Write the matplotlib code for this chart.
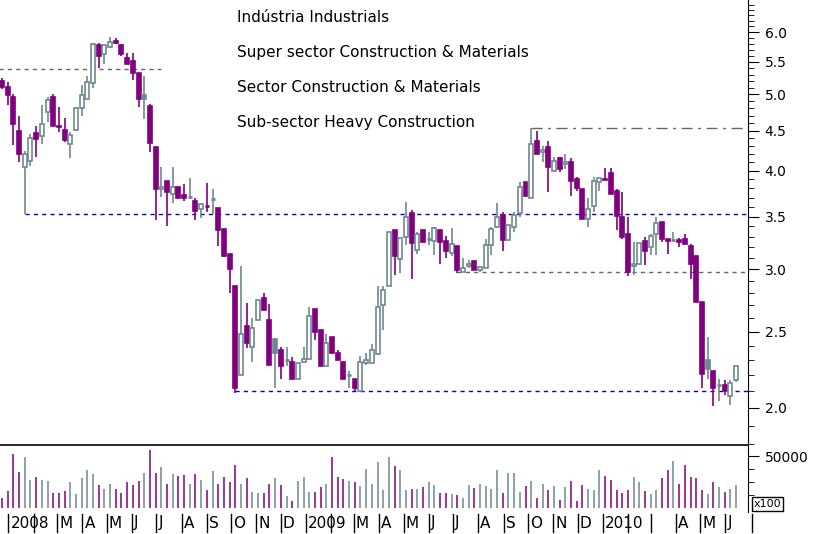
import matplotlib
matplotlib.use("Agg")
import matplotlib.pyplot as plt
import matplotlib.transforms as mtransforms
from matplotlib.patches import Rectangle
from matplotlib.ticker import FixedLocator, NullFormatter
import numpy as np
import datetime as dt

# ---------------- data ----------------
opens = [5.20,5.11,4.97,4.49,4.05,4.12,4.47,4.43,4.75,4.97,4.56,4.51,4.33,4.51,4.80,4.93,5.17,5.77,5.62,5.75,
         5.85,5.77,5.57,5.51,5.32,4.99,4.83,4.29,3.79,3.88,3.74,3.82,3.73,3.70,3.66,3.58,3.61,3.67,3.59,3.37,
         3.14,2.86,2.20,2.54,2.39,2.59,2.76,2.59,2.45,2.37,2.29,2.29,2.18,2.29,2.31,2.67,2.51,2.26,2.46,2.35,
         2.29,2.19,2.18,2.10,2.28,2.28,2.34,2.70,2.86,3.36,3.09,3.30,3.54,3.17,3.36,3.27,3.26,3.36,3.26,3.15,
         3.21,2.98,3.03,3.07,2.99,3.01,3.22,3.39,3.52,3.27,3.39,3.54,3.87,3.69,4.36,4.23,4.29,4.00,4.15,4.08,
         4.10,3.91,3.79,3.47,3.61,3.87,3.89,3.98,3.77,3.50,3.33,3.03,3.05,3.26,3.20,3.33,3.44,3.28,3.26,3.27,
         3.28,3.21,3.12,2.73,2.30,2.23,2.13,2.14,2.07,2.17]
highs = [5.24,5.19,5.00,4.69,4.24,4.46,4.56,4.85,4.97,5.00,4.82,4.67,4.48,4.82,5.14,5.28,5.82,5.82,5.78,5.92,
         5.89,5.80,5.65,5.65,5.32,5.28,4.86,4.29,4.05,3.88,4.04,3.82,3.85,3.92,3.69,3.63,3.86,3.79,3.59,3.37,
         3.14,2.86,3.03,2.72,2.60,2.74,2.80,2.71,2.45,2.39,2.39,2.32,2.28,2.39,2.69,2.67,2.51,2.48,2.46,2.37,
         2.29,2.23,2.18,2.33,2.35,2.41,2.86,2.86,3.35,3.36,3.29,3.65,3.57,3.35,3.36,3.35,3.39,3.36,3.31,3.38,
         3.21,3.10,3.08,3.07,3.03,3.28,3.39,3.64,3.55,3.41,3.55,3.87,3.87,4.53,4.49,4.30,4.36,4.17,4.17,4.20,
         4.15,3.93,3.79,3.69,3.93,3.92,4.03,4.03,3.79,3.76,3.50,3.25,3.24,3.30,3.33,3.50,3.44,3.28,3.35,3.29,
         3.33,3.23,3.12,2.73,2.46,2.23,2.18,2.17,2.17,2.26]
lows = [5.08,4.85,4.31,4.10,3.53,4.06,4.17,4.33,4.61,4.56,4.48,4.35,4.15,4.49,4.69,4.93,5.09,5.41,5.47,5.72,
        5.80,5.59,5.46,5.22,4.82,4.65,4.23,3.46,3.71,3.40,3.64,3.69,3.66,3.69,3.46,3.48,3.55,3.53,3.21,3.11,
        2.80,2.09,2.20,2.38,2.29,2.59,2.66,2.27,2.12,2.18,2.26,2.18,2.18,2.28,2.31,2.44,2.26,2.26,2.34,2.30,
        2.18,2.12,2.10,2.10,2.27,2.28,2.34,2.51,2.86,2.95,2.97,3.22,2.92,3.14,3.25,3.22,3.13,3.05,3.10,3.12,
        2.97,2.98,3.01,2.99,2.98,3.01,3.13,3.38,3.16,3.27,3.35,3.50,3.72,3.69,4.20,4.10,3.76,4.00,3.99,4.02,
        3.72,3.77,3.47,3.39,3.55,3.77,3.89,3.74,3.36,3.28,2.94,2.95,3.05,3.04,3.13,3.13,3.25,3.14,3.25,3.20,
        3.23,2.92,2.73,2.12,2.18,2.01,2.04,2.08,2.02,2.16]
closes = [5.11,4.99,4.58,4.20,4.20,4.40,4.39,4.58,4.92,4.56,4.54,4.38,4.44,4.80,4.99,5.19,5.80,5.59,5.77,5.83,
          5.82,5.62,5.46,5.33,4.93,4.94,4.34,3.79,3.81,3.76,3.82,3.70,3.69,3.71,3.56,3.63,3.60,3.68,3.36,3.12,
          3.00,2.12,2.48,2.42,2.53,2.74,2.66,2.27,2.35,2.26,2.30,2.18,2.28,2.31,2.62,2.50,2.26,2.42,2.35,2.30,
          2.18,2.20,2.12,2.29,2.30,2.37,2.69,2.82,3.35,3.12,3.29,3.50,3.24,3.33,3.25,3.28,3.38,3.25,3.16,3.23,
          2.99,3.01,3.05,2.99,3.02,3.22,3.37,3.50,3.27,3.41,3.52,3.81,3.72,4.32,4.20,4.25,4.04,4.12,4.02,4.10,
          3.88,3.80,3.47,3.58,3.88,3.92,3.91,3.74,3.51,3.30,2.98,3.05,3.24,3.16,3.31,3.43,3.28,3.26,3.27,3.25,
          3.23,3.05,2.73,2.21,2.24,2.12,2.14,2.10,2.15,2.26]
volumes = [9300,16100,51800,34500,49300,26700,29900,26700,26100,14200,14800,16700,25100,13200,29000,36400,32800,21900,18000,22900,
           18000,14200,25100,21900,26100,33800,55700,33800,39300,22900,32800,31200,31900,22900,32800,26700,17100,35400,23200,29900,
           25100,41200,23200,29000,15500,14200,14200,22900,29000,21900,11300,6400,26100,29900,15100,15100,20300,23200,49300,29900,
           27700,26100,24800,20900,37700,23200,44100,17100,48900,40300,36400,17100,18400,18400,20300,25100,21900,14800,14200,13200,
           12200,9700,21900,19300,23200,21600,18000,36400,14800,33500,33500,15100,20900,25800,9300,22900,17100,20900,7400,20300,
           25800,6400,22200,18000,17700,36400,30900,26700,17100,14500,17100,29900,24800,16400,13800,17100,29000,36400,45100,22900,
           41500,29900,28700,17100,13200,24800,20000,15000,18000,22000]
first_week = dt.date(2007, 12, 24)
month_labels = ["2008", "", "M", "A", "M", "J", "J", "A", "S", "O", "N", "D",
                "2009", "", "M", "A", "M", "J", "J", "A", "S", "O", "N", "D",
                "2010", "", "", "A", "M", "J"]
price_ticks = [2.0, 2.5, 3.0, 3.5, 4.0, 4.5, 5.0, 5.5, 6.0]
titles = ["Indústria Industrials", "Super sector Construction & Materials",
          "Sector Construction & Materials", "Sub-sector Heavy Construction"]
# support / resistance levels: (price, start candle index, style)
levels = [(5.38, -1, "grey_dash", 28), (3.53, 4, "blue", None), (2.10, 41, "blue", None),
          (2.98, 80, "grey_dash", None), (4.53, 93, "grey_dashdot", None)]

PURPLE = "#800080"
GREY = "#6E8790"
BLUE = "#0000CC"

n = len(closes)
fig = plt.figure(figsize=(8.17, 5.34), dpi=100)
W, H = 817, 534
axp = fig.add_axes([0, (H - 445) / H, 748 / W, 445 / H])
axv = fig.add_axes([0, (H - 512) / H, 748 / W, 67 / H])

xlim = (-0.35, n - 1 + 2.1)
# ---- candles ----
bw = 0.7
for i in range(n):
    o, h, l, c = opens[i], highs[i], lows[i], closes[i]
    prev = closes[i - 1] if i > 0 else o
    col = PURPLE if c < prev else GREY
    filled = c < o
    top, bot = max(o, c), min(o, c)
    axp.vlines(i, top, h, color=col, lw=1.2, zorder=2)
    axp.vlines(i, l, bot, color=col, lw=1.2, zorder=2)
    if abs(top - bot) < 0.012:
        axp.hlines(top, i - bw / 2, i + bw / 2, color=col, lw=2, zorder=3)
    else:
        axp.add_patch(Rectangle((i - bw / 2, bot), bw, top - bot,
                                facecolor=col if filled else "white",
                                edgecolor=col, lw=1.2, zorder=3))
    axv.vlines(i, 0, volumes[i], color=col, lw=1.1)

# ---- levels ----
for price, start, style, end in levels:
    e = end if end is not None else xlim[1]
    if style == "blue":
        axp.hlines(price, start, e, colors=BLUE, linestyles=(0, (3, 3)), lw=1, zorder=1)
    elif style == "grey_dash":
        axp.hlines(price, start, e, colors="#666666", linestyles=(0, (3, 3)), lw=1, zorder=1)
    else:
        axp.hlines(price, start, e, colors="#666666", linestyles=(0, (8, 4, 2, 4)), lw=1, zorder=1)

axp.set_yscale("log")
axp.set_ylim(1.795, 6.59)
axp.set_xlim(*xlim)
axp.yaxis.tick_right()
axp.yaxis.set_major_locator(FixedLocator(price_ticks))
axp.set_yticklabels([f"{t:.1f}" for t in price_ticks])
axp.yaxis.set_minor_locator(FixedLocator(np.arange(1.8, 6.6, 0.1)))
axp.yaxis.set_minor_formatter(NullFormatter())
axp.tick_params(axis="y", which="major", length=8, direction="out", labelsize=10, pad=4)
axp.tick_params(axis="y", which="minor", length=4)
axp.set_xticks([])
for s in ["top", "left", "bottom"]:
    axp.spines[s].set_visible(False)

for k, t in enumerate(titles):
    fig.text(237 / W, 1 - (18 + 35 * k) / H, t, fontsize=11, va="center", ha="left",
             family="DejaVu Sans")

# ---- volume ----
axv.set_xlim(*xlim)
axv.set_ylim(-3846, 60577)
axv.yaxis.tick_right()
axv.set_yticks([50000])
axv.set_yticklabels(["50000"])
axv.yaxis.set_minor_locator(FixedLocator([12500, 25000, 37500]))
axv.tick_params(axis="y", which="major", length=8, labelsize=10, pad=4)
axv.tick_params(axis="y", which="minor", length=4)
axv.set_xticks([])
for s in ["left", "bottom"]:
    axv.spines[s].set_visible(False)
axv.spines["top"].set_linewidth(1.2)
fig.text(754 / W, 1 - 504 / H, "x100", fontsize=8, va="center", ha="left",
         bbox=dict(boxstyle="square,pad=0.15", fc="white", ec="black", lw=1))

# ---- month axis ----
trans = mtransforms.blended_transform_factory(axv.transData, fig.transFigure)
for k, lab in enumerate(month_labels):
    y, m = 2008 + k // 12, k % 12 + 1
    d = dt.date(y, m, 1)
    idx = (d - first_week).days / 7.0
    axv.plot([idx, idx], [1 - 514 / H, 1 - 532 / H], color="black", lw=1,
             transform=trans, clip_on=False)
    if lab:
        axv.text(idx + 0.35, 1 - 523 / H, lab, transform=trans, fontsize=11,
                 va="center", ha="left")
axv.plot([n + 1.8, n + 1.8], [1 - 514 / H, 1 - 532 / H], color="black", lw=1,
         transform=trans, clip_on=False)

fig.savefig("out.png", dpi=100)
